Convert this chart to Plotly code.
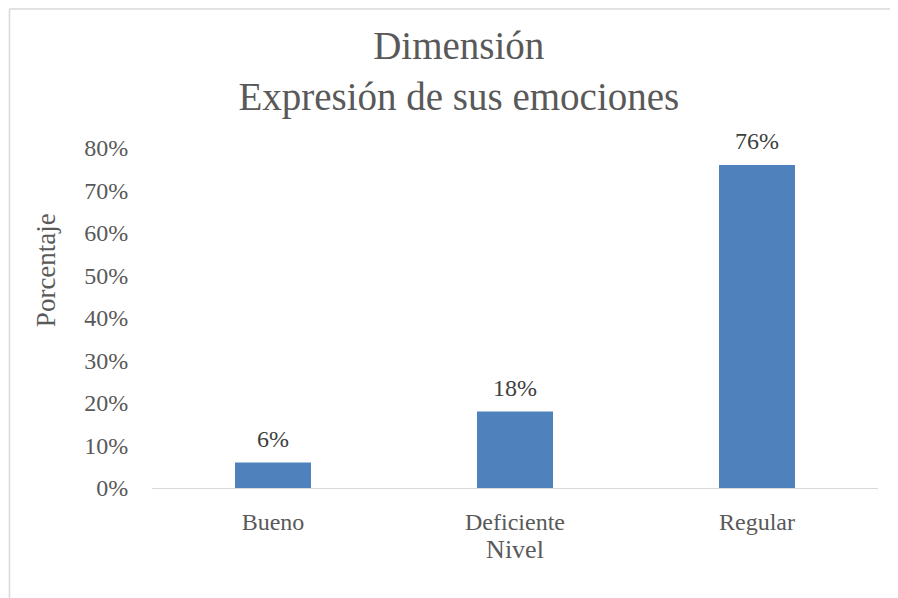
import plotly.graph_objects as go

NIVELES = ["Bueno", "Deficiente", "Regular"]
PORCENTAJES = [0.06, 0.18, 0.76]
Y_TICKS = [0, 0.1, 0.2, 0.3, 0.4, 0.5, 0.6, 0.7, 0.8]

FONT = "Liberation Serif, DejaVu Serif, serif"
GREY = "#595959"

fig = go.Figure(
    go.Bar(
        x=NIVELES,
        y=PORCENTAJES,
        width=0.314,
        marker=dict(color="#4F81BD", line=dict(width=0)),
        hoverinfo="x+y",
    )
)

# data labels sit a bit higher above the bars than plotly's outside text
for nivel, valor in zip(NIVELES, PORCENTAJES):
    fig.add_annotation(
        x=nivel,
        y=valor,
        text=f"{valor:.0%}",
        showarrow=False,
        yanchor="bottom",
        yshift=9,
        font=dict(family=FONT, size=24, color="#404040"),
    )

# the page body adds an 8px offset, so margins are shifted to compensate
fig.update_layout(
    width=898,
    height=598,
    margin=dict(l=144, r=28, t=140, b=118),
    paper_bgcolor="white",
    plot_bgcolor="white",
    font=dict(family=FONT, color=GREY),
    showlegend=False,
    title=dict(
        text="Dimensión<br>Expresión de sus emociones",
        font=dict(family=FONT, size=39, color=GREY),
        x=0.502,
        xanchor="center",
        y=0.914,
        yanchor="middle",
    ),
)

fig.update_xaxes(
    showline=True,
    linecolor="#D9D9D9",
    linewidth=1,
    showgrid=False,
    ticks="outside",
    ticklen=12,
    tickcolor="rgba(0,0,0,0)",
    tickfont=dict(family=FONT, size=24, color=GREY),
    title=dict(text="Nivel", font=dict(family=FONT, size=26, color=GREY), standoff=4),
)
fig.update_yaxes(
    range=[0, 0.8],
    tickvals=Y_TICKS,
    tickformat=".0%",
    showgrid=False,
    zeroline=False,
    showline=False,
    ticks="outside",
    ticklen=18,
    tickcolor="rgba(0,0,0,0)",
    tickfont=dict(family=FONT, size=24, color=GREY),
)

fig.add_annotation(
    text="Porcentaje",
    textangle=-90,
    xref="paper",
    yref="paper",
    x=-0.145,
    y=0.64,
    xanchor="center",
    yanchor="middle",
    showarrow=False,
    font=dict(family=FONT, size=27, color=GREY),
)

# chart area border (only top and left edges are visible in the crop)
fig.add_shape(type="line", xref="paper", yref="paper", x0=-0.1963, x1=1.1, y0=1.4088, y1=1.4088,
              line=dict(color="#D9D9D9", width=1.5))
fig.add_shape(type="line", xref="paper", yref="paper", x0=-0.1963, x1=-0.1963, y0=1.4088, y1=-0.4,
              line=dict(color="#D9D9D9", width=1.5))

fig.write_html("out.html")
